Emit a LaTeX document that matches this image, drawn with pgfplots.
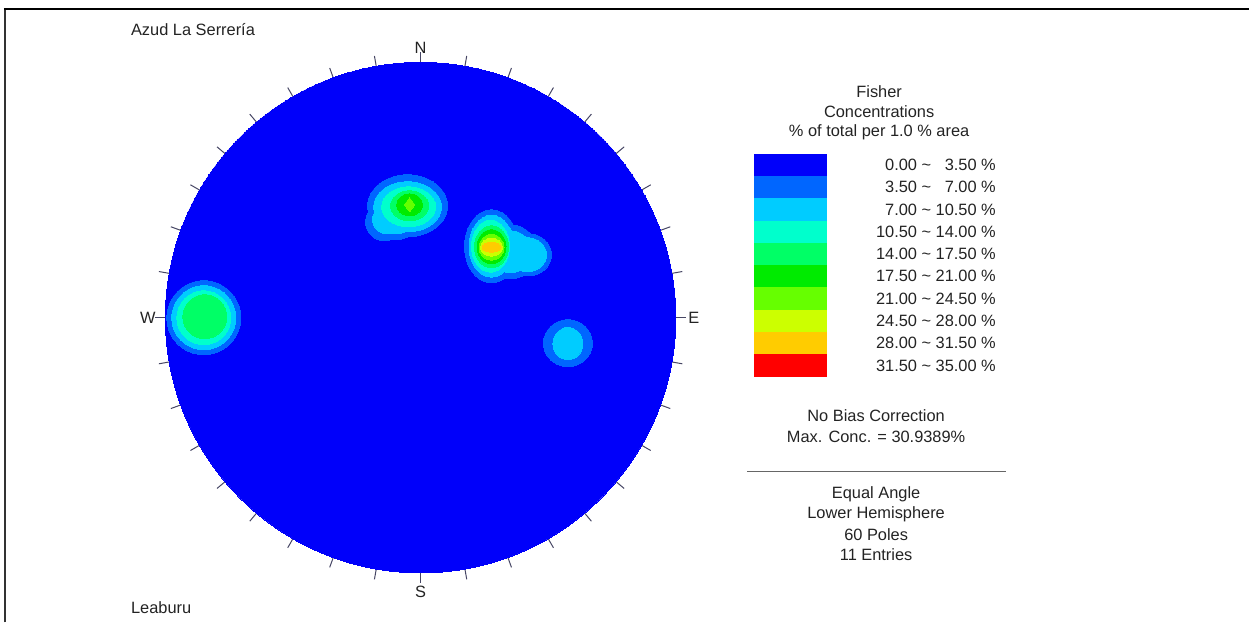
\documentclass[border=0pt]{standalone}
\usepackage{fontspec}
\setmainfont{Liberation Sans}
\usepackage{pgfplots}
\pgfplotsset{compat=1.18}
\definecolor{c1}{RGB}{0,0,250}
\definecolor{c2}{RGB}{0,102,255}
\definecolor{c3}{RGB}{0,204,255}
\definecolor{c4}{RGB}{0,255,204}
\definecolor{c5}{RGB}{0,255,102}
\definecolor{c6}{RGB}{0,235,0}
\definecolor{c7}{RGB}{102,255,0}
\definecolor{c8}{RGB}{204,255,0}
\definecolor{c9}{RGB}{255,204,0}
\definecolor{c10}{RGB}{255,0,0}
\definecolor{tickc}{RGB}{70,70,100}
\definecolor{txt}{RGB}{35,35,35}
% blob: colour, x, y, rx, ry
\newcommand{\blob}[5]{\addplot[#1, only marks, mark=*, mark size=1pt, mark options={solid, line width=0pt, draw=#1, fill=#1, xscale=#4, yscale=#5}] coordinates {(#2,#3)};}
\newcommand{\legrow}[3]{\addplot[fill=#1, draw=none] coordinates {(334,#2) (407,#2) (407,#3) (334,#3)} -- cycle;}
\begin{document}
\begin{tikzpicture}[lbl/.style={font=\fontsize{16.4}{19.7}\selectfont, text=txt, inner sep=0pt}]
\begin{axis}[
  scale only axis, width=1250pt, height=623pt,
  xmin=-421, xmax=829, ymin=-305, ymax=318,
  hide axis, clip=false]
\addplot[draw=none] coordinates {(-421,-305) (829,318)};
% frame
\addplot[black!80, line width=2pt] coordinates {(-416,-305) (-416,309)};
\addplot[black, line width=2.5pt] coordinates {(-417,309) (829,309)};
% disk
\addplot[c1, only marks, mark=*, mark size=255.5pt, mark options={solid, line width=0pt, draw=c1, fill=c1}] coordinates {(0,0)};
% ticks every 10 degrees
\pgfplotsinvokeforeach{0,10,...,350}{
  \addplot[tickc, line width=1pt, data cs=polar] coordinates {(#1,255.5) (#1,266)};
}
% level 2 (3.50-7.00)
\blob{c2}{-13}{112}{40}{31}
\blob{c2}{-25}{104}{26}{26}
\blob{c2}{-36}{96}{19}{19}
\blob{c2}{71}{71.5}{27}{36.5}
\blob{c2}{90}{66}{27}{27}
\blob{c2}{108}{63}{23}{21}
\blob{c2}{-217}{0}{37}{37}
\blob{c2}{147.5}{-25.5}{24.5}{23.5}
% level 3 (7.00-10.50)
\blob{c3}{-13}{111}{34}{25}
\blob{c3}{-24}{104}{20}{20}
\blob{c3}{-34}{98}{14}{14}
\blob{c3}{71}{71.5}{22.5}{31}
\blob{c3}{90}{66}{21}{21}
\blob{c3}{107}{63}{19}{17}
\blob{c3}{-217}{0}{32}{32}
\blob{c3}{147.5}{-26}{15}{16}
% level 4 (10.50-14.00)
\blob{c4}{-12}{111}{27}{20}
\blob{c4}{70}{71.5}{19}{26}
\blob{c4}{-217}{0}{27}{27}
% level 5 (14.00-17.50)
\blob{c5}{-11}{112}{19}{15}
\blob{c5}{71}{71}{17}{21}
\blob{c5}{-216}{1}{22}{22}
% level 6 (17.50-21.00)
\blob{c6}{-11}{113}{13}{11}
\blob{c6}{71}{71}{14.5}{17}
% level 7 (21.00-24.50)
\addplot[c7, only marks, mark=diamond*, mark size=7pt, mark options={solid, line width=0pt, draw=c7, fill=c7}] coordinates {(-11,113)};
\blob{c7}{71}{70.5}{12.5}{13}
% level 8 (24.50-28.00)
\blob{c8}{71}{70.5}{11}{9}
% level 9 (28.00-31.50)
\blob{c9}{71}{70.5}{9.5}{5}
% labels
\node[lbl, anchor=west] at (axis cs:-290,288) {Azud La Serrería};
\node[lbl, anchor=west] at (axis cs:-290,-290) {Leaburu};
\node[lbl] at (axis cs:0,270) {N};
\node[lbl] at (axis cs:0,-274) {S};
\node[lbl] at (axis cs:-273,0) {W};
\node[lbl] at (axis cs:273.5,0) {E};
% legend header
\node[lbl] at (axis cs:459,226) {Fisher};
\node[lbl] at (axis cs:459,206) {Concentrations};
\node[lbl] at (axis cs:459,186) {\% of total per 1.0 \% area};
% legend boxes
\legrow{c1}{164}{141.7}
\legrow{c2}{141.7}{119.4}
\legrow{c3}{119.4}{97.1}
\legrow{c4}{97.1}{74.8}
\legrow{c5}{74.8}{52.5}
\legrow{c6}{52.5}{30.2}
\legrow{c7}{30.2}{7.9}
\legrow{c8}{7.9}{-14.4}
\legrow{c9}{-14.4}{-36.7}
\legrow{c10}{-36.7}{-59}
\node[lbl, anchor=east] at (axis cs:576,152.85) {0.00 \textasciitilde{} \phantom{1}3.50 \%};
\node[lbl, anchor=east] at (axis cs:576,130.55) {3.50 \textasciitilde{} \phantom{1}7.00 \%};
\node[lbl, anchor=east] at (axis cs:576,108.25) {7.00 \textasciitilde{} 10.50 \%};
\node[lbl, anchor=east] at (axis cs:576,85.95) {10.50 \textasciitilde{} 14.00 \%};
\node[lbl, anchor=east] at (axis cs:576,63.65) {14.00 \textasciitilde{} 17.50 \%};
\node[lbl, anchor=east] at (axis cs:576,41.35) {17.50 \textasciitilde{} 21.00 \%};
\node[lbl, anchor=east] at (axis cs:576,19.05) {21.00 \textasciitilde{} 24.50 \%};
\node[lbl, anchor=east] at (axis cs:576,-3.25) {24.50 \textasciitilde{} 28.00 \%};
\node[lbl, anchor=east] at (axis cs:576,-25.55) {28.00 \textasciitilde{} 31.50 \%};
\node[lbl, anchor=east] at (axis cs:576,-47.85) {31.50 \textasciitilde{} 35.00 \%};
% bottom text
\node[lbl] at (axis cs:456,-98) {No Bias Correction};
\node[lbl] at (axis cs:456,-119) {Max. Conc. = 30.9389\%};
\addplot[black!60, line width=1pt] coordinates {(327,-154) (586,-154)};
\node[lbl] at (axis cs:456,-177) {Equal Angle};
\node[lbl] at (axis cs:456,-197) {Lower Hemisphere};
\node[lbl] at (axis cs:456,-217) {60 Poles};
\node[lbl] at (axis cs:456,-237) {11 Entries};
\end{axis}
\end{tikzpicture}
\end{document}
